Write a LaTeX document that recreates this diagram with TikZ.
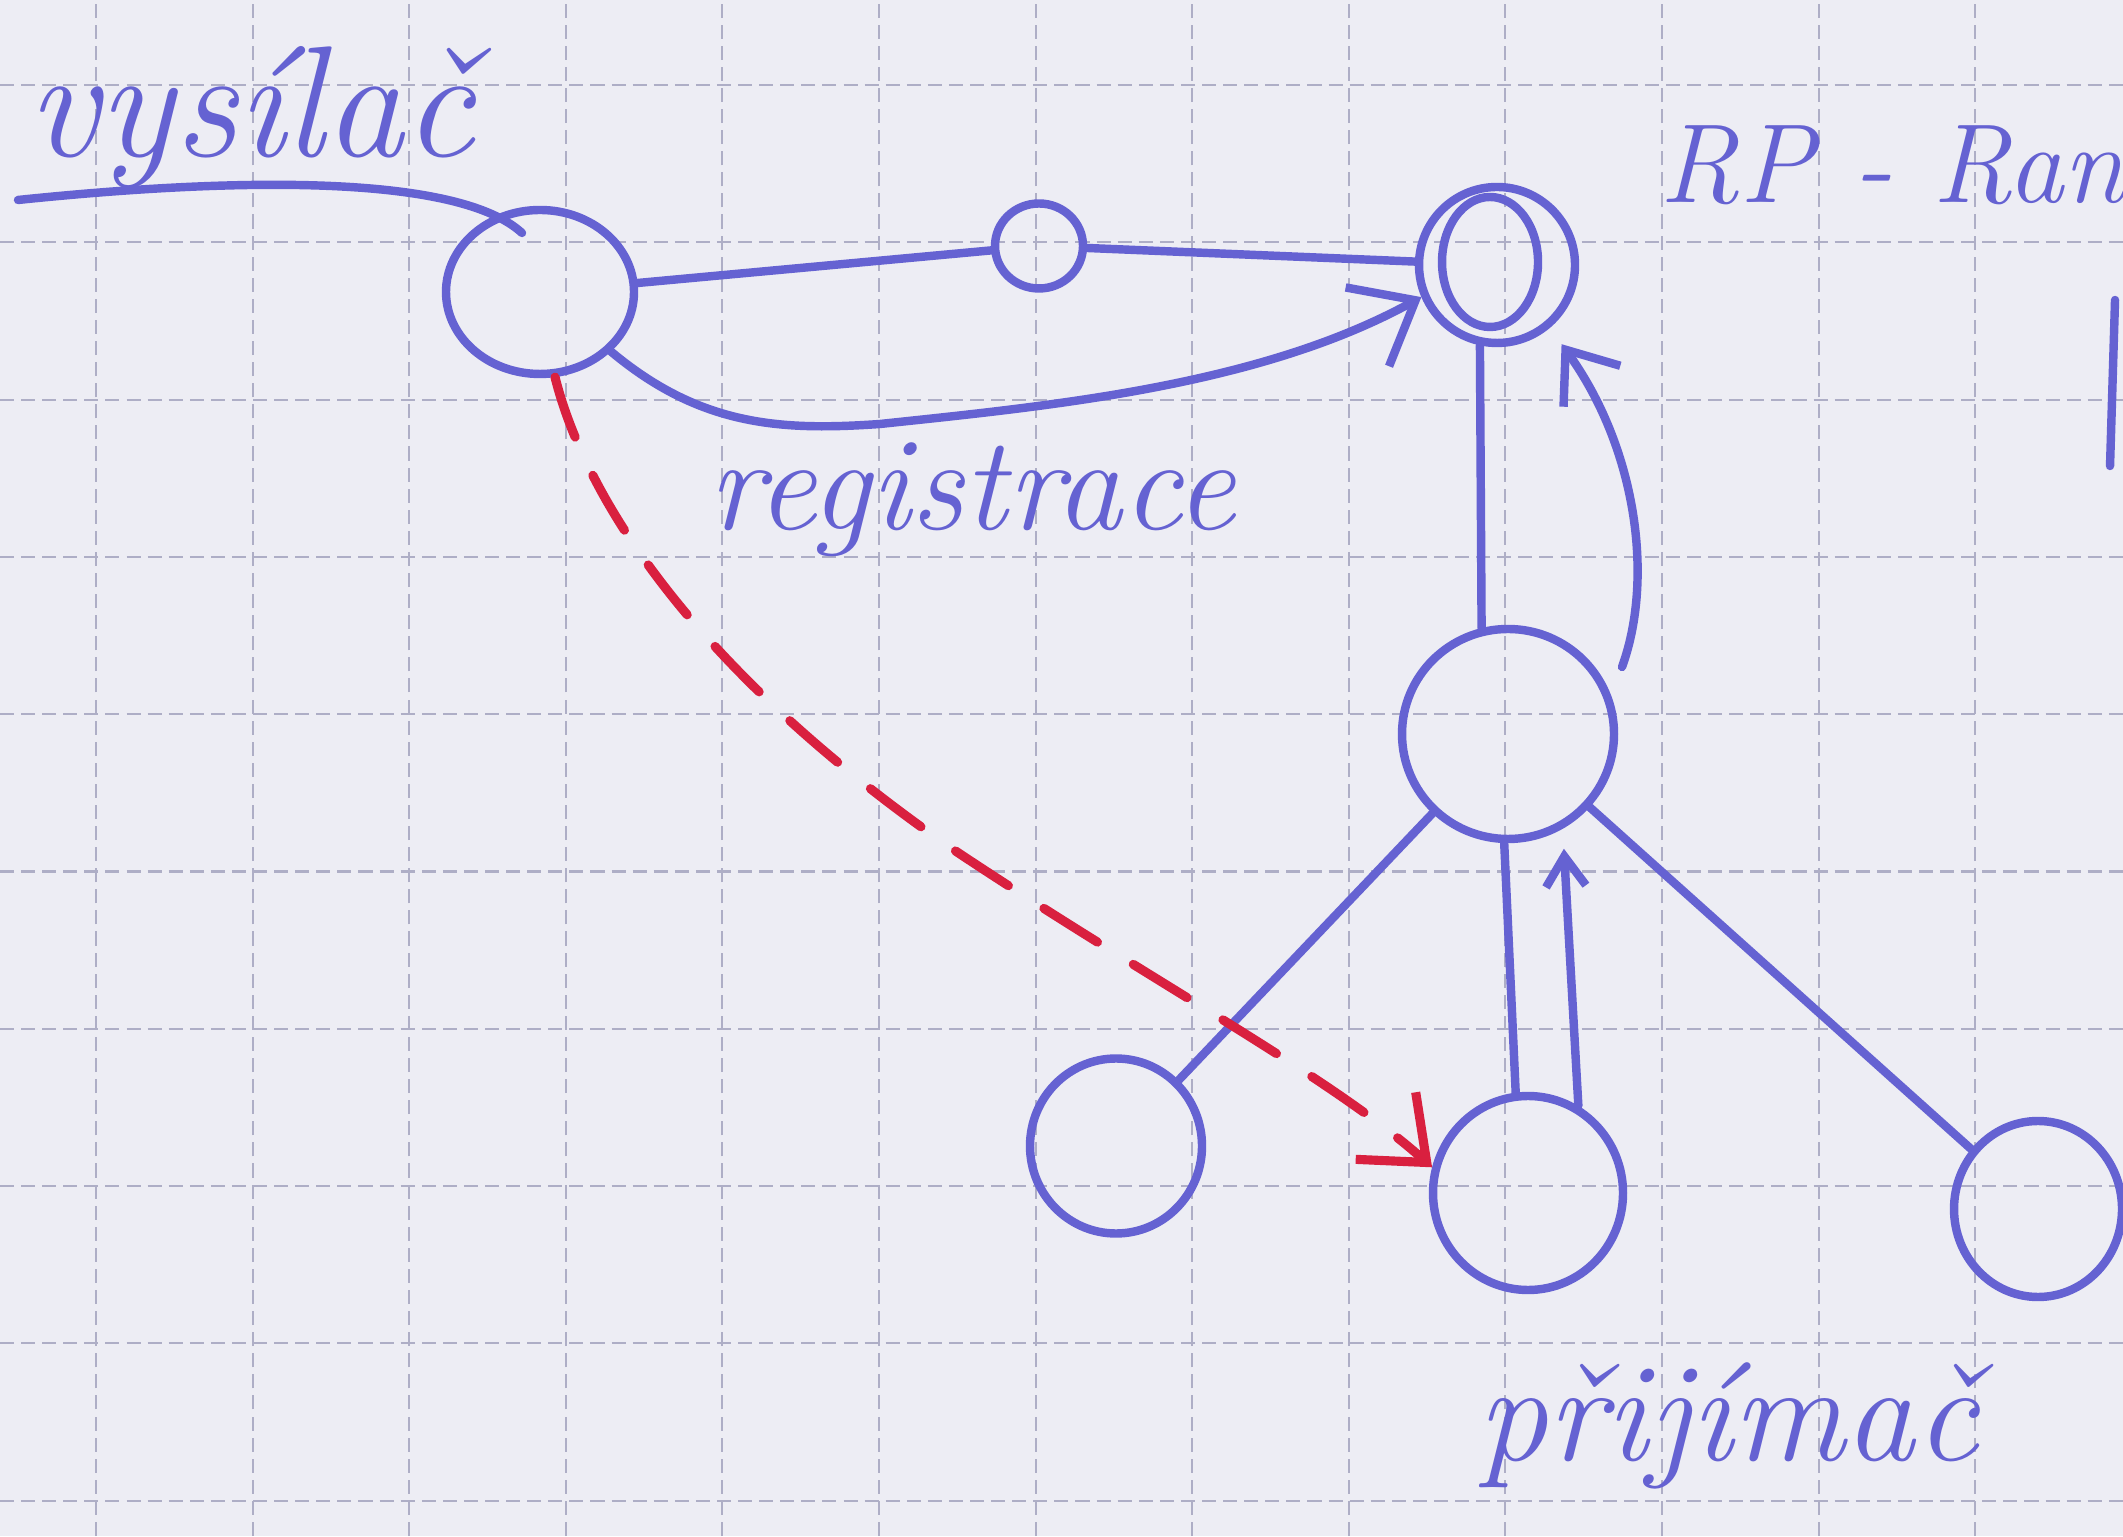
\documentclass[tikz,border=0pt]{standalone}
\usepackage{fontspec}
\usetikzlibrary{shapes.geometric,arrows.meta}
\definecolor{ink}{HTML}{6562D2}
\definecolor{redink}{HTML}{D9203F}
\definecolor{paper}{HTML}{EDEDF4}
\definecolor{gridc}{HTML}{AEAEC6}
\tikzset{
  pen/.style={draw=ink, line width=2.4pt, line cap=round, line join=round},
  redpen/.style={draw=redink, line width=2.6pt, line cap=round, line join=round},
  nd/.style={ellipse, pen, inner sep=0pt},
  hand/.style={text=ink, inner sep=0pt},
  gridline/.style={draw=gridc, line width=0.6pt, dash pattern=on 4pt off 2pt},
  bigbarb/.style={-{Straight Barb[length=0.55cm,width=0.9cm]}},
  midbarb/.style={-{Straight Barb[length=0.45cm,width=0.7cm]}},
  smallbarb/.style={-{Straight Barb[length=0.3cm,width=0.4cm]}}
}
\begin{document}
\begin{tikzpicture}
% paper
\fill[paper] (0,0) rectangle (21.23,15.36);
\useasboundingbox (0,0) rectangle (21.23,15.36);
\foreach \k in {0,...,12} \draw[gridline] ({0.96+1.566*\k},0) -- ({0.96+1.566*\k},15.36);
\foreach \k in {0,...,9} \draw[gridline] (0,{14.51-1.573*\k}) -- (21.23,{14.51-1.573*\k});

% nodes
\node[nd, minimum width=1.88cm, minimum height=1.64cm] (snd) at (5.40,12.44) {};
\node[nd, minimum width=0.88cm, minimum height=0.85cm] (sm) at (10.39,12.90) {};
\node[nd, minimum width=1.56cm, minimum height=1.56cm] (rp) at (14.97,12.71) {};
\node[nd, minimum width=0.96cm, minimum height=1.30cm] (rpin) at (14.90,12.74) {};
\node[nd, minimum width=2.12cm, minimum height=2.10cm] (mid) at (15.08,8.02) {};
\node[nd, minimum width=1.72cm, minimum height=1.75cm] (bl) at (11.16,3.90) {};
\node[nd, minimum width=1.90cm, minimum height=1.94cm] (rcv) at (15.28,3.43) {};
\node[nd, minimum width=1.68cm, minimum height=1.76cm] (br) at (20.38,3.27) {};

% labels
\node[hand, font=\itshape\fontsize{45pt}{50pt}\selectfont, anchor=base west] (tsnd) at (0.27,13.79) {vysílač};
\node[hand, font=\itshape\fontsize{32pt}{36pt}\selectfont, anchor=base west] (trp) at (16.59,13.33) {RP - Ran};
\node[hand, font=\itshape\fontsize{38pt}{42pt}\selectfont, anchor=base] (treg) at (9.72,10.06) {registrace};
\node[hand, font=\itshape\fontsize{40pt}{44pt}\selectfont, anchor=base] (trcv) at (17.28,0.76) {přijímač};

% underline of vysilac ending in the sender
\coordinate (u0) at (0.18,13.36);
\coordinate (u1) at (5.22,13.03);
\draw[pen] (u0) .. controls (2.5,13.6) and (4.6,13.6) .. (u1);

% edges
\draw[pen] (snd) -- (sm);
\draw[pen] (sm) -- (rp);
\draw[pen, bigbarb] (snd.-40) .. controls (7.0,11.1) and (7.8,11.05) .. (8.8,11.12)
   .. controls (10.5,11.3) and (12.6,11.5) .. (rp.203);
\draw[pen] (rp.258) -- (mid.104);
\coordinate (a1) at (16.22,8.69);
\draw[pen, midbarb, shorten >=0.2cm] (a1) .. controls (16.55,9.6) and (16.35,10.9) .. (rp.-50);
\draw[pen] (mid) -- (bl);
\draw[pen] (mid.-92) -- (rcv.97);
\draw[pen, smallbarb, shorten >=0.2cm] (rcv.60) -- (mid.-60);
\draw[pen] (mid) -- (br);

% red dashed arrow
\draw[redpen, dash pattern=on 18pt off 12pt, bigbarb] (snd.-80) .. controls (5.85,10.4) and (6.9,8.7) .. (9.48,6.90)
   .. controls (11.5,5.55) and (13.3,4.6) .. (rcv.165);

% stroke at right edge
\draw[pen] (21.15,12.36) -- (21.10,10.70);
\end{tikzpicture}
\end{document}
